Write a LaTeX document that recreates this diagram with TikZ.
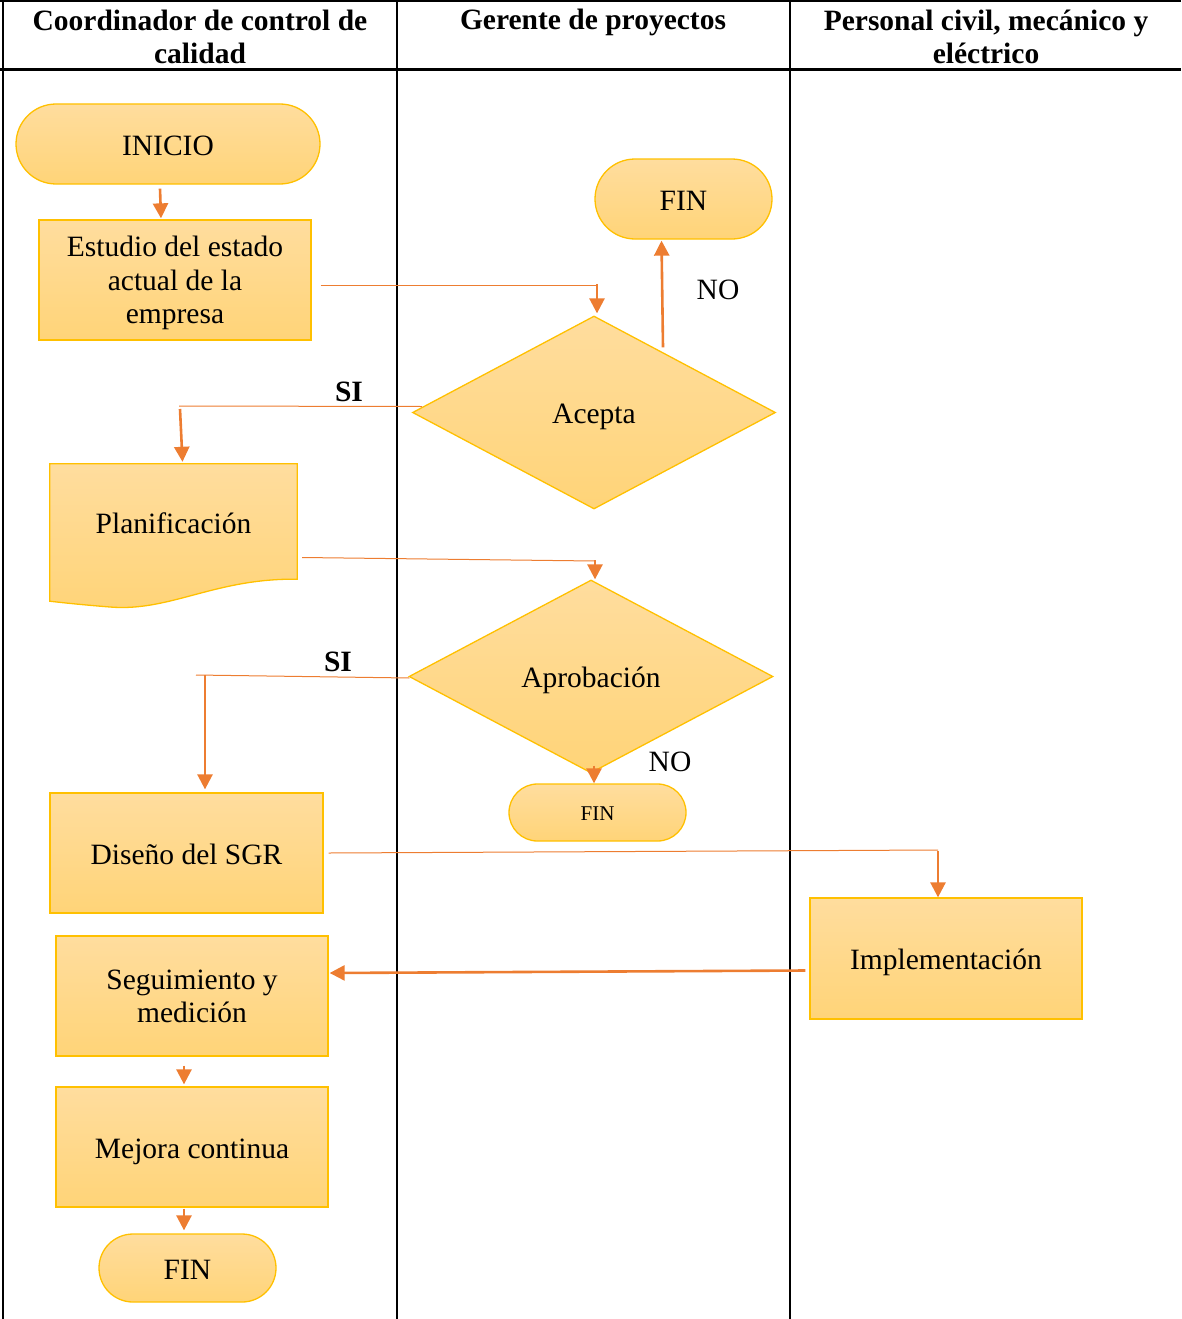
\documentclass[tikz,border=0pt]{standalone}
\usepackage{fontspec}
\setmainfont{Liberation Serif}
\usetikzlibrary{arrows.meta,shapes.geometric,calc}
\definecolor{flowline}{HTML}{ED7D31}
\definecolor{boxedge}{HTML}{FFC000}
\definecolor{filltop}{HTML}{FFDD9E}
\definecolor{fillbot}{HTML}{FFD478}
\begin{document}
\begin{tikzpicture}[x=1pt,y=-1pt,
  every node/.style={font=\fontsize{29.5}{33.5}\selectfont, text=black},
  headtext/.style={font=\fontsize{29.5}{33}\selectfont\bfseries, align=center, inner sep=0pt},
  oneline/.style={text height=22pt, text depth=0pt},
  manyline/.style={text depth=0pt},
  shaded/.style={draw=boxedge, line width=1.3pt, top color=filltop, bottom color=fillbot},
  stepbox/.style={shaded, rectangle, align=center, inner sep=0pt,
    minimum width=272pt, minimum height=120pt},
  terminal/.style={shaded, rectangle, align=center, inner sep=0pt},
  decision/.style={shaded, diamond, align=center, inner sep=0pt,
    minimum width=363pt, minimum height=193pt},
  thinline/.style={draw=flowline, line width=1pt},
  arrowline/.style={draw=flowline, line width=2.6pt,
    -{Triangle[width=15pt,length=15pt]}},
  lbl/.style={inner sep=0pt}
]
\useasboundingbox (0,0) rectangle (1181,1319);

% lanes
\draw[line width=2pt] (0,1.5) -- (1181,1.5);
\draw[line width=3pt] (0,70) -- (1181,70);
\draw[line width=2.4pt] (3,0) -- (3,1319);
\draw[line width=2.4pt] (397,0) -- (397,1319);
\draw[line width=2.4pt] (790,0) -- (790,1319);

\node[headtext] (h1) at (200,37) {Coordinador de control de\\calidad};
\node[headtext] (h2) at (593,22) {Gerente de proyectos};
\node[headtext] (h3) at (986,37) {Personal civil, mecánico y\\eléctrico};

% process nodes
\node[terminal, oneline, minimum width=304pt, minimum height=80pt, rounded corners=40pt]
  (inicio) at (168,144) {INICIO};
\node[stepbox, manyline] (estudio) at (175,280) {Estudio del estado\\actual de la\\empresa};
\node[terminal, oneline, minimum width=177pt, minimum height=80pt, rounded corners=40pt]
  (finA) at (683.5,199) {FIN};
\node[decision, oneline] (acepta) at (594,412.5) {Acepta};

% document shape
\node[minimum width=247pt, minimum height=117pt, inner sep=0pt] (plan) at (173.5,522.5) {};
\path[shaded] (plan.north west) -- (plan.north east) -- ($(plan.south east)+(0,-2)$)
  .. controls (215,578) and (170,612) .. (110,607)
  .. controls (85,605) and (65,603) .. ($(plan.south west)+(0,20)$) -- cycle;
\node[oneline] (plantext) at (plan.center) {Planificación};

\node[decision, oneline, minimum width=364pt] (aprob) at (591,676.5) {Aprobación};
\node[terminal, minimum width=177pt, minimum height=57pt, rounded corners=28.5pt,
  font=\fontsize{21}{24}\selectfont, text height=15pt, text depth=0pt] (finB) at (597.5,812.5) {FIN};

\node[stepbox, oneline, minimum width=273pt] (diseno) at (186.5,853) {Diseño del SGR};
\node[stepbox, manyline] (seg) at (192,996) {Seguimiento y\\medición};
\node[stepbox, oneline, minimum height=121pt] (impl) at (946,958.5) {Implementación};
\node[stepbox, oneline] (mejora) at (192,1147) {Mejora continua};
\node[terminal, oneline, minimum width=177pt, minimum height=68pt, rounded corners=34pt]
  (finC) at (187.5,1268) {FIN};

% labels
\node[lbl] (no1) at (718,290) {NO};
\node[lbl] (no2) at (670,762) {NO};
\node[lbl, font=\fontsize{29.5}{33}\selectfont\bfseries] (si1) at (349,392) {SI};
\node[lbl, font=\fontsize{29.5}{33}\selectfont\bfseries] (si2) at (338,662) {SI};

% connectors
\draw[arrowline] ($(inicio.south)+(-8,4)$) -- ($(estudio.north)+(-14,-1)$);

\coordinate (c1) at (597,285);
\draw[thinline] ($(estudio.east)+(9,5)$) -- (c1);
\draw[arrowline] ($(c1)+(0,-1)$) -- ($(acepta.north)+(3,-2)$);

\draw[arrowline] ($(acepta.north)+(69,32)$) -- ($(finA.south)+(-22,1)$);

\coordinate (c2) at (179,406);
\draw[thinline] ($(acepta.west)+(10,-6)$) -- (c2);
\draw[arrowline] ($(c2)+(1,3)$) -- ($(plan.north)+(9,-2)$);

\coordinate (c3) at (595,561);
\draw[thinline] ($(plan.east)+(5,35)$) -- (c3);
\draw[arrowline] ($(c3)+(0,-1)$) -- ($(aprob.north)+(4,0)$);

\coordinate (c4) at (196,675);
\draw[thinline] ($(aprob.west)+(1,1.5)$) -- (c4);
\draw[arrowline] (205,675) -- ($(diseno.north)+(18.5,-3)$);

\draw[arrowline] ($(aprob.south)+(3,-8)$) -- ($(finB.north)+(-3.5,0)$);

\coordinate (c5) at (938,850);
\draw[thinline] ($(diseno.east)+(5,0)$) -- (c5);
\draw[arrowline] ($(c5)+(0,1)$) -- ($(impl.north)+(-8,0)$);

\draw[arrowline] ($(impl.west)+(-4,12)$) -- ($(seg.east)+(1,-23)$);

\draw[arrowline] ($(seg.south)+(-8,9)$) -- ($(mejora.north)+(-8,-2)$);
\draw[arrowline] ($(mejora.south)+(-8,1)$) -- ($(finC.north)+(-3.5,-3)$);
\end{tikzpicture}
\end{document}
